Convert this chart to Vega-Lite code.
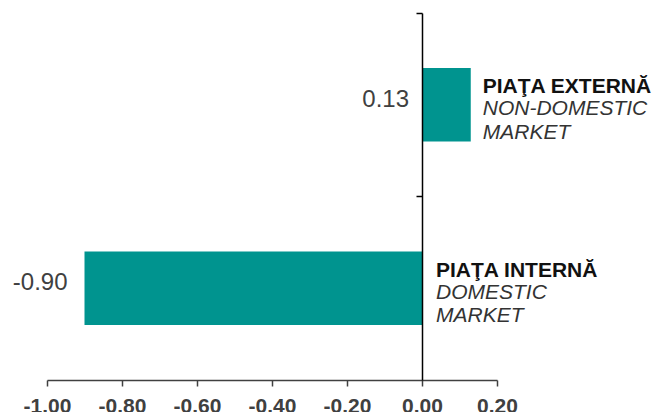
{
  "$schema": "https://vega.github.io/schema/vega-lite/v6.json",
  "width": 450,
  "height": 367,
  "autosize": {"type": "none"},
  "padding": {"left": 47, "top": 13, "right": 156, "bottom": 32},
  "background": "white",
  "config": {"view": {"stroke": null}, "font": "Liberation Sans"},
  "data": {
    "values": [
      {"cat": "PIAŢA EXTERNĂ", "value": 0.13, "label": "0.13", "ro": "PIAŢA EXTERNĂ", "en1": "NON-DOMESTIC", "en2": "MARKET"},
      {"cat": "PIAŢA INTERNĂ", "value": -0.9, "label": "-0.90", "ro": "PIAŢA INTERNĂ", "en1": "DOMESTIC", "en2": "MARKET"}
    ]
  },
  "encoding": {
    "y": {
      "field": "cat",
      "type": "nominal",
      "sort": null,
      "scale": {"paddingInner": 0, "paddingOuter": 0},
      "axis": {
        "orient": "left",
        "offset": -375,
        "title": null,
        "labels": false,
        "bandPosition": 0,
        "domainColor": "#000000",
        "domainWidth": 1.5,
        "tickColor": "#000000",
        "tickWidth": 1.5,
        "tickSize": 6,
        "zindex": 2
      }
    },
    "x": {
      "field": "value",
      "type": "quantitative",
      "scale": {"domain": [-1, 0.2], "nice": false, "zero": true},
      "axis": {
        "title": null,
        "grid": false,
        "values": [-1, -0.8, -0.6, -0.4, -0.2, 0, 0.2],
        "labelExpr": "replace(format(datum.value, '.2f'), '\u2212', '-')",
        "labelFont": "Liberation Sans",
        "labelFontWeight": "bold",
        "labelFontSize": 21,
        "labelColor": "#404040",
        "labelPadding": 9,
        "labelFlush": false,
        "labelOverlap": false,
        "domainColor": "#404040",
        "domainWidth": 1.5,
        "tickColor": "#404040",
        "tickWidth": 1.5,
        "tickSize": 6
      }
    }
  },
  "layer": [
    {
      "mark": {"type": "bar", "color": "#00948F", "height": {"band": 0.4}}
    },
    {
      "transform": [{"filter": "datum.value >= 0"}],
      "layer": [
        {
          "mark": {"type": "text", "align": "right", "baseline": "middle", "dx": -13, "dy": -5, "fontSize": 24, "color": "#404040"},
          "encoding": {"x": {"datum": 0}, "text": {"field": "label"}}
        },
        {
          "mark": {"type": "text", "align": "left", "baseline": "middle", "dx": 12, "dy": -17.5, "fontSize": 21, "fontWeight": "bold", "color": "#111111"},
          "encoding": {"text": {"field": "ro"}}
        },
        {
          "mark": {"type": "text", "align": "left", "baseline": "middle", "dx": 12, "dy": 4.7, "fontSize": 21, "fontStyle": "italic", "color": "#333333"},
          "encoding": {"text": {"field": "en1"}}
        },
        {
          "mark": {"type": "text", "align": "left", "baseline": "middle", "dx": 12, "dy": 28, "fontSize": 21, "fontStyle": "italic", "color": "#333333"},
          "encoding": {"text": {"field": "en2"}}
        }
      ]
    },
    {
      "transform": [{"filter": "datum.value < 0"}],
      "layer": [
        {
          "mark": {"type": "text", "align": "right", "baseline": "middle", "dx": -17, "dy": -5, "fontSize": 24, "color": "#404040"},
          "encoding": {"text": {"field": "label"}}
        },
        {
          "mark": {"type": "text", "align": "left", "baseline": "middle", "dx": 14, "dy": -17.5, "fontSize": 21, "fontWeight": "bold", "color": "#111111"},
          "encoding": {"x": {"datum": 0}, "text": {"field": "ro"}}
        },
        {
          "mark": {"type": "text", "align": "left", "baseline": "middle", "dx": 14, "dy": 4.7, "fontSize": 21, "fontStyle": "italic", "color": "#333333"},
          "encoding": {"x": {"datum": 0}, "text": {"field": "en1"}}
        },
        {
          "mark": {"type": "text", "align": "left", "baseline": "middle", "dx": 14, "dy": 28, "fontSize": 21, "fontStyle": "italic", "color": "#333333"},
          "encoding": {"x": {"datum": 0}, "text": {"field": "en2"}}
        }
      ]
    }
  ]
}
